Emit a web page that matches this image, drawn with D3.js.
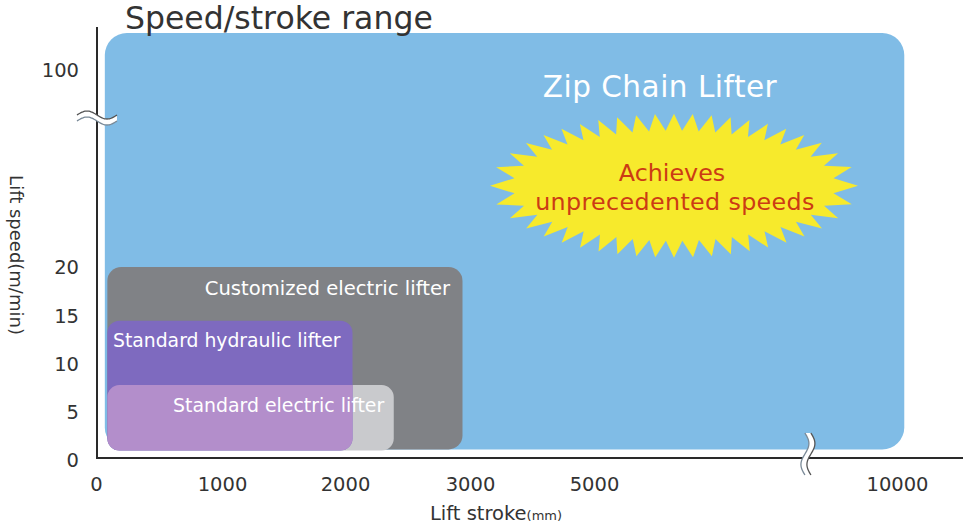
<!DOCTYPE html>
<html>
<head>
<meta charset="utf-8">
<script src="https://cdn.jsdelivr.net/npm/d3@7"></script>
<style>
  html, body { margin: 0; padding: 0; background: #ffffff; }
  svg { display: block; }
  text { font-family: "DejaVu Sans", sans-serif; }
</style>
</head>
<body>
<svg id="chart" width="963" height="527"></svg>
<script>
// ---------- data ----------
const xTicks = [0, 1000, 2000, 3000, 5000, 10000];
const xTickLabels = ["0", "1000", "2000", "3000", "5000", "10000"];
const yTicks = [0, 5, 10, 15, 20, 100];
const yTickLabels = ["0", "5", "10", "15", "20", "100"];

// ranges: [strokeMin, strokeMax, speedMin, speedMax]
const lifterNames = ["Zip Chain Lifter", "Customized electric lifter", "Standard hydraulic lifter", "Standard electric lifter"];
const strokeMin = [70, 90, 90, 90];
const strokeMax = [10120, 2940, 2060, 2390];
const speedMin  = [1.1, 1.1, 1.0, 1.0];
const speedMax  = [115, 20, 14.5, 7.8];

const xBreakAt = 8530;   // stroke value where x axis is broken
const yBreakAt = 80.5;   // speed value where y axis is broken
const burstAt = [6320, 53];

// ---------- layout ----------
const svg = d3.select("#chart");
const x = d3.scaleLinear().domain(xTicks).range([96, 222, 345, 470, 594, 897]);
const y = d3.scaleLinear().domain(yTicks).range([460, 412, 364, 316, 267, 70]);

const fills = ["#80bce6", "#808286", "#7e6abf", "#c9cacd"];
const radii = [22, 14, 12, 12];

function rectOf(i) {
  return {x: x(strokeMin[i]), y: y(speedMax[i]), w: x(strokeMax[i]) - x(strokeMin[i]), h: y(speedMin[i]) - y(speedMax[i])};
}

const defs = svg.append("defs");
const rp = rectOf(2);
defs.append("clipPath").attr("id", "clipHyd")
  .append("rect").attr("x", rp.x).attr("y", rp.y).attr("width", rp.w).attr("height", rp.h)
  .attr("rx", radii[2]).attr("ry", radii[2]);

// draw order: zip, customized, electric(light), hydraulic, electric-overlap(pink)
const order = [0, 1, 3, 2];
order.forEach(i => {
  const r = rectOf(i);
  svg.append("rect").attr("x", r.x).attr("y", r.y).attr("width", r.w).attr("height", r.h)
    .attr("rx", radii[i]).attr("ry", radii[i]).attr("fill", fills[i]);
});
{
  const r = rectOf(3);
  svg.append("rect").attr("x", r.x).attr("y", r.y).attr("width", r.w).attr("height", r.h)
    .attr("rx", radii[3]).attr("ry", radii[3]).attr("fill", "#b38ecb")
    .attr("clip-path", "url(#clipHyd)");
}

// ---------- starburst ----------
function burstPath(cx, cy, rxO, ryO, rxI, ryI, n) {
  const rxM = (rxO + rxI) / 2, ryM = (ryO + ryI) / 2;
  const N = 4000, ts = [], cum = [0];
  for (let k = 0; k <= N; k++) ts.push(Math.PI + 2 * Math.PI * k / N);
  for (let k = 1; k <= N; k++) {
    const dx = rxM * (Math.cos(ts[k]) - Math.cos(ts[k-1]));
    const dy = ryM * (Math.sin(ts[k]) - Math.sin(ts[k-1]));
    cum.push(cum[k-1] + Math.hypot(dx, dy));
  }
  const L = cum[N];
  const pts = [];
  let j = 0;
  for (let m = 0; m < 2 * n; m++) {
    const target = L * m / (2 * n);
    while (j < N && cum[j + 1] < target) j++;
    const t = ts[j];
    const outer = (m % 2 === 0);
    const rx = outer ? rxO : rxI, ry = outer ? ryO : ryI;
    pts.push([cx + rx * Math.cos(t), cy + ry * Math.sin(t)]);
  }
  return "M" + pts.map(p => p[0].toFixed(2) + "," + p[1].toFixed(2)).join("L") + "Z";
}
const bcx = x(burstAt[0]), bcy = y(burstAt[1]);
svg.append("path").attr("d", burstPath(bcx, bcy, 184, 72, 161, 55, 44)).attr("fill", "#f7ea2c");

// ---------- axes ----------
const xAxis = d3.axisBottom(x).tickValues(xTicks).tickFormat((d, i) => xTickLabels[i]).tickSize(0).tickPadding(19.5);
const gx = svg.append("g").attr("transform", "translate(0,458)").call(xAxis);
gx.select(".domain").remove();
gx.selectAll("text").attr("font-family", "DejaVu Sans").attr("font-size", 19.5).attr("fill", "#333");

const yAxis = d3.axisLeft(y).tickValues(yTicks).tickFormat((d, i) => yTickLabels[i]).tickSize(0).tickPadding(18);
const gy = svg.append("g").attr("transform", "translate(97,0)").call(yAxis);
gy.select(".domain").remove();
gy.selectAll("text").attr("font-family", "DejaVu Sans").attr("font-size", 19.5).attr("fill", "#333");

svg.append("line").attr("x1", 97).attr("x2", 963).attr("y1", 458).attr("y2", 458)
  .attr("stroke", "#2a2a2a").attr("stroke-width", 2);
svg.append("line").attr("x1", 97).attr("x2", 97).attr("y1", 27).attr("y2", 459)
  .attr("stroke", "#2a2a2a").attr("stroke-width", 2);

// ---------- break marks ----------
function waveH(x0, yc, w, amp) {
  return d3.range(0, 41).map(k => [x0 + w * k / 40, yc - amp * Math.sin(2 * Math.PI * k / 40)]);
}
function waveV(xc, y0, h, amp) {
  return d3.range(0, 41).map(k => [xc + amp * Math.sin(2 * Math.PI * k / 40), y0 + h * k / 40]);
}
{
  const yb = y(yBreakAt);
  const top = waveH(77, yb - 3, 40, 4), bot = waveH(77, yb + 3, 40, 4);
  const line = d3.line().curve(d3.curveBasis);
  svg.append("path").attr("d", "M" + top.map(p => p.join(",")).join("L") + "L" + bot.slice().reverse().map(p => p.join(",")).join("L") + "Z")
    .attr("fill", "#ffffff");
  svg.append("path").attr("d", line(top)).attr("fill", "none").attr("stroke", "#555").attr("stroke-width", 1.3);
  svg.append("path").attr("d", line(bot)).attr("fill", "none").attr("stroke", "#7a8a98").attr("stroke-width", 1.3);
}
{
  const xb = x(xBreakAt);
  const left = waveV(xb - 3, 433, 42, 4), right = waveV(xb + 3, 433, 42, 4);
  const line = d3.line().curve(d3.curveBasis);
  svg.append("path").attr("d", "M" + left.map(p => p.join(",")).join("L") + "L" + right.slice().reverse().map(p => p.join(",")).join("L") + "Z")
    .attr("fill", "#ffffff");
  svg.append("path").attr("d", line(left)).attr("fill", "none").attr("stroke", "#7a8a98").attr("stroke-width", 1.3);
  svg.append("path").attr("d", line(right)).attr("fill", "none").attr("stroke", "#555").attr("stroke-width", 1.3);
}

// ---------- texts ----------
svg.append("text").attr("x", 125).attr("y", 29).attr("font-size", 31.5).attr("fill", "#333")
  .text("Speed/stroke range");

svg.append("text").attr("x", 660).attr("y", 97).attr("text-anchor", "middle").attr("font-size", 29.5)
  .attr("letter-spacing", 0.5).attr("fill", "#ffffff").text(lifterNames[0]);

svg.append("text").attr("x", 450).attr("y", 295).attr("text-anchor", "end").attr("font-size", 19.6)
  .attr("fill", "#ffffff").text(lifterNames[1]);
svg.append("text").attr("x", 113).attr("y", 347).attr("font-size", 18.8)
  .attr("fill", "#ffffff").text(lifterNames[2]);
svg.append("text").attr("x", 173).attr("y", 412).attr("font-size", 18.9)
  .attr("fill", "#ffffff").text(lifterNames[3]);

svg.append("text").attr("x", bcx - 2).attr("y", 181).attr("text-anchor", "middle").attr("font-size", 23.8)
  .attr("fill", "#cc3b14").text("Achieves");
svg.append("text").attr("x", bcx + 1).attr("y", 210).attr("text-anchor", "middle").attr("font-size", 23.8)
  .attr("letter-spacing", 0.35).attr("fill", "#cc3b14").text("unprecedented speeds");

const xl = svg.append("text").attr("x", 430).attr("y", 520).attr("font-size", 19.5).attr("fill", "#333");
xl.append("tspan").text("Lift stroke");
xl.append("tspan").attr("font-size", 13).text("(mm)");

svg.append("text").attr("transform", "translate(10,255) rotate(90)").attr("text-anchor", "middle")
  .attr("font-size", 18).attr("fill", "#333").text("Lift speed(m/min)");
</script>
</body>
</html>
